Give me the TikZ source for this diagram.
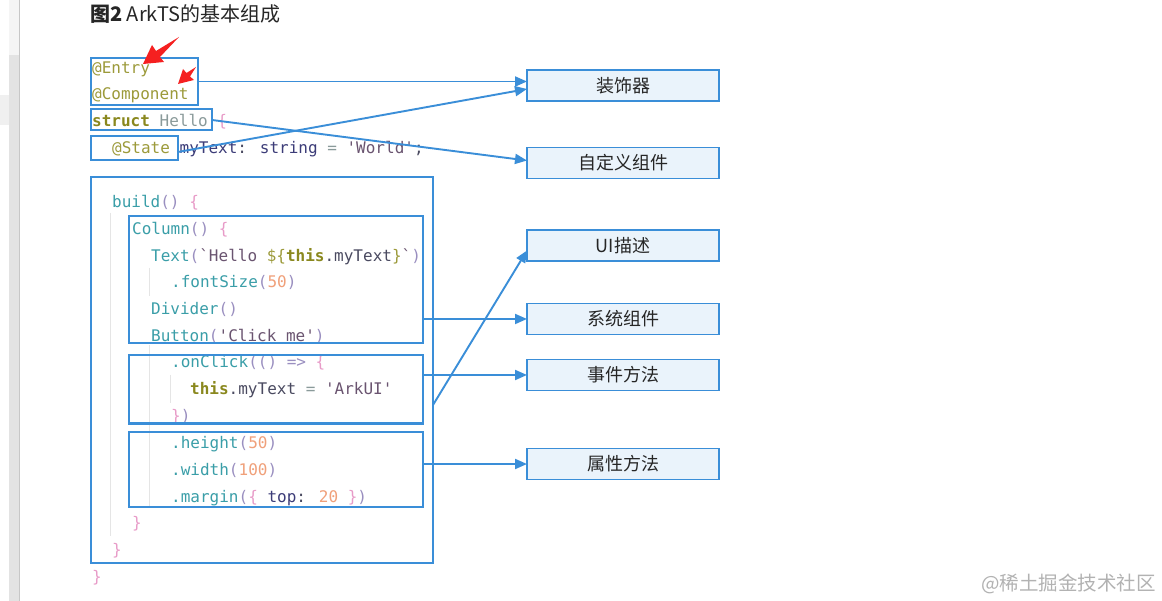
\documentclass[tikz,border=0pt]{standalone}
\usepackage{fontspec}
\setmainfont{Noto Sans CJK SC}
\newfontfamily\codefont{DejaVu Sans Mono}
\newfontfamily\cjkfont{Noto Sans CJK SC}
\usetikzlibrary{arrows.meta}
\definecolor{bl}{HTML}{3A8ED8}
\definecolor{blfill}{HTML}{EAF3FB}
\definecolor{olv}{HTML}{9C9A3A}
\definecolor{olvdk}{HTML}{8A881E}
\definecolor{pnk}{HTML}{E89BC8}
\definecolor{nvy}{HTML}{3C3C78}
\definecolor{tl}{HTML}{3A9EA8}
\definecolor{ppar}{HTML}{9A8FC0}
\definecolor{dstr}{HTML}{6A5470}
\definecolor{ddark}{HTML}{4A4A60}
\definecolor{gry}{HTML}{8A9A9A}
\definecolor{orn}{HTML}{F0A07A}
\definecolor{redmark}{HTML}{F52020}
\newcommand\Colv[1]{\textcolor{olv}{#1}}
\newcommand\Cbold[1]{\textcolor{olvdk}{\bfseries #1}}
\newcommand\Cpink[1]{\textcolor{pnk}{#1}}
\newcommand\Cnavy[1]{\textcolor{nvy}{#1}}
\newcommand\Cteal[1]{\textcolor{tl}{#1}}
\newcommand\Cpar[1]{\textcolor{ppar}{#1}}
\newcommand\Cstr[1]{\textcolor{dstr}{#1}}
\newcommand\Cdark[1]{\textcolor{ddark}{#1}}
\newcommand\Cgray[1]{\textcolor{gry}{#1}}
\newcommand\Cnum[1]{\textcolor{orn}{#1}}
\begin{document}
\begin{tikzpicture}[x=1pt,y=-1pt,
  codebox/.style={draw=bl, line width=2pt, inner sep=0pt, outer sep=0pt},
  labelbox/.style={draw=bl, line width=1.8pt, fill=blfill, inner sep=0pt, outer sep=0pt,
    minimum width=192pt, minimum height=31pt, font=\cjkfont\fontsize{18}{18}\selectfont, text=black!85},
  codeline/.style={anchor=base west, inner sep=0pt, font=\codefont\fontsize{16}{16}\selectfont},
  conn/.style={draw=bl, line width=1.9pt, -{Triangle[length=12pt,width=10pt]}},
  guide/.style={draw=black!10, line width=0.8pt}]
\useasboundingbox (0,0) rectangle (1162,601);
\fill[white] (0,0) rectangle (1162,601);
% side scroll strip
\fill[black!4] (9,0) rectangle (19,55);
\fill[black!11] (9,55) rectangle (19,601);
\fill[black!6] (0,95) rectangle (9,125);
\draw[black!22, line width=0.8pt] (19.5,0) -- (19.5,601);
% title
\node[anchor=base west, inner sep=0pt, font=\cjkfont\fontsize{20}{20}\selectfont, text=black!85] (title) at (90,21.5) {\textbf{图2} ArkTS的基本组成};
% indent guides
\draw[guide] (110,213) -- (110,536);
\draw[guide] (149,268) -- (149,296);
\draw[guide] (149,345) -- (149,506);
\draw[guide] (170,375) -- (170,403);
% code lines
\node[codeline] (l1) at (92,74) {\Colv{@Entry}};
\node[codeline] (l2) at (92,100) {\Colv{@Component}};
\node[codeline] (l3) at (92,127) {\Cbold{struct} \Cgray{Hello} \Cpink{\{}};
\node[codeline] (l4) at (112,154) {\Colv{@State} \Cnavy{myText}\Cdark{:} \Cnavy{string} \Cgray{=} \Cstr{'World'}\Cdark{;}};
\node[codeline] (l5) at (112,208) {\Cteal{build}\Cpar{()} \Cpink{\{}};
\node[codeline] (l6) at (132,235) {\Cteal{Column}\Cpar{()} \Cpink{\{}};
\node[codeline] (l7) at (151,262) {\Cteal{Text}\Cpar{(}\Cstr{`Hello }\Colv{\$\{}\Cbold{this}\Cdark{.myText}\Colv{\}}\Cstr{`}\Cpar{)}};
\node[codeline] (l8) at (171,288) {\Cteal{.fontSize}\Cpar{(}\Cnum{50}\Cpar{)}};
\node[codeline] (l9) at (151,315) {\Cteal{Divider}\Cpar{()}};
\node[codeline] (l10) at (151,342) {\Cteal{Button}\Cpar{(}\Cstr{'Click me'}\Cpar{)}};
\node[codeline] (l11) at (171,368) {\Cteal{.onClick}\Cpar{(()} \Cpar{=>} \Cpink{\{}};
\node[codeline] (l12) at (190,395) {\Cbold{this}\Cdark{.myText} \Cgray{=} \Cstr{'ArkUI'}};
\node[codeline] (l13) at (171,421) {\Cpink{\}}\Cpar{)}};
\node[codeline] (l14) at (171,448) {\Cteal{.height}\Cpar{(}\Cnum{50}\Cpar{)}};
\node[codeline] (l15) at (171,475) {\Cteal{.width}\Cpar{(}\Cnum{100}\Cpar{)}};
\node[codeline] (l16) at (171,502) {\Cteal{.margin}\Cpar{(}\Cpink{\{} \Cnavy{top}\Cdark{:} \Cnum{20} \Cpink{\}}\Cpar{)}};
\node[codeline] (l17) at (132,528) {\Cpink{\}}};
\node[codeline] (l18) at (112,555) {\Cpink{\}}};
\node[codeline] (l19) at (92,582) {\Cpink{\}}};
% left boxes
\node[codebox, minimum width=107pt, minimum height=47pt] (entry) at (144,81.5) {};
\node[codebox, minimum width=121pt, minimum height=21pt] (struct) at (151.5,120) {};
\node[codebox, minimum width=87pt, minimum height=24pt] (state) at (134.5,148) {};
\node[codebox, minimum width=342pt, minimum height=386pt] (build) at (262,370) {};
\node[codebox, minimum width=294pt, minimum height=127pt] (col) at (276,280) {};
\node[codebox, minimum width=294pt, minimum height=68pt] (click) at (276,389.5) {};
\node[codebox, minimum width=294pt, minimum height=75pt] (hgt) at (276,469.5) {};
% right boxes
\node[labelbox] (deco) at (623,85.5) {装饰器};
\node[labelbox] (custom) at (623,163) {自定义组件};
\node[labelbox] (ui) at (623,245.5) {UI描述};
\node[labelbox] (sys) at (623,319) {系统组件};
\node[labelbox] (evt) at (623,375) {事件方法};
\node[labelbox] (attr) at (623,464) {属性方法};
% connectors
\draw[conn] (entry.east) -- (entry.east -| deco.west);
\draw[conn] ([yshift=-4pt]state.east) -- ([yshift=-3.5pt]deco.west);
\draw[conn] (struct.east) -- ([yshift=2.5pt]custom.west);
\draw[conn] ([yshift=-35pt]build.east) -- ([yshift=-5pt]ui.west);
\draw[conn] (sys.west -| col.east) -- (sys.west);
\draw[conn] (evt.west -| click.east) -- (evt.west);
\draw[conn] (attr.west -| hgt.east) -- (attr.west);
% red annotation arrows
\fill[redmark] (143,64) -- (164,62) -- (160,57) -- (179,37) -- (156,51) -- (152,45) -- cycle;
\fill[redmark] (178,84) -- (194,80) -- (190,76.5) -- (196,67) -- (186.5,73) -- (183,69) -- cycle;
% watermark
\node[anchor=base east, inner sep=0pt, font=\cjkfont\fontsize{19.5}{19.5}\selectfont, text=black!30] (wm) at (1156,590) {@稀土掘金技术社区};
\end{tikzpicture}
\end{document}
